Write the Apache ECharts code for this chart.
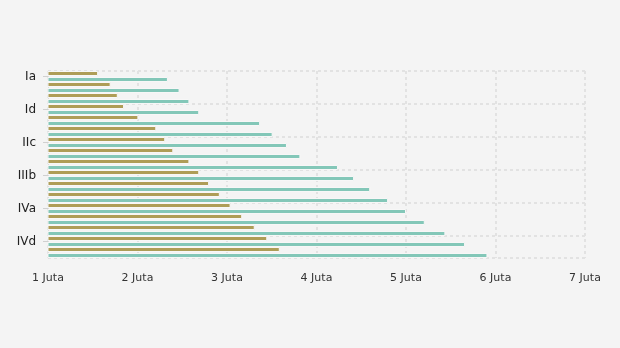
<!DOCTYPE html>
<html>
<head>
<meta charset="utf-8">
<script src="https://cdn.jsdelivr.net/npm/echarts@6/dist/echarts.min.js"></script>
<style>
  html, body { margin: 0; padding: 0; background: #f4f4f4; }
  #chart { width: 620px; height: 348px; }
</style>
</head>
<body>
<div id="chart"></div>
<script>
// Categories, top to bottom
const categories = ['Ia', 'Ib', 'Ic', 'Id', 'IIa', 'IIb', 'IIc', 'IId', 'IIIa', 'IIIb', 'IIIc', 'IIId', 'IVa', 'IVb', 'IVc', 'IVd', 'V'];

// Values per category (rupiah)
const seriesGold = [1560000, 1700000, 1780000, 1850000, 2010000, 2210000, 2310000, 2400000, 2580000, 2690000, 2800000, 2920000, 3040000, 3170000, 3310000, 3450000, 3590000];
const seriesTeal = [2340000, 2470000, 2580000, 2690000, 3370000, 3510000, 3670000, 3820000, 4240000, 4420000, 4600000, 4800000, 5000000, 5210000, 5440000, 5660000, 5910000];

// Value-axis range
const xMin = 1000000;
const xMax = 7000000;
const xStep = 1000000;

const chart = echarts.init(document.getElementById('chart'), null, { renderer: 'canvas' });

const gridLine = { color: '#e2e2e2', width: 2, type: [3, 3] };

chart.setOption({
  backgroundColor: '#f4f4f4',
  animation: false,
  grid: { left: 48, right: 35, top: 71, bottom: 90, containLabel: false },
  xAxis: {
    type: 'value',
    min: xMin,
    max: xMax,
    interval: xStep,
    axisLine: { show: false },
    axisTick: { show: false },
    axisLabel: {
      color: '#333',
      fontFamily: 'DejaVu Sans',
      fontSize: 11,
      margin: 15,
      formatter: v => (v / 1000000) + ' Juta'
    },
    splitLine: { show: true, lineStyle: gridLine }
  },
  yAxis: {
    type: 'category',
    data: categories,
    inverse: true,
    axisLine: { show: true, lineStyle: { color: '#dcdcdc', width: 1 } },
    axisTick: { show: true, alignWithLabel: true, interval: 2, length: 5, lineStyle: { color: '#d0d0d0' } },
    axisLabel: {
      interval: 2,
      color: '#222',
      fontFamily: 'DejaVu Sans',
      fontSize: 12,
      margin: 12,
      padding: [2, 0, 0, 0]
    },
    splitLine: { show: true, interval: 2, lineStyle: gridLine }
  },
  series: [
    {
      type: 'bar',
      data: seriesGold,
      barWidth: 5,
      barGap: '20%',
      itemStyle: { color: '#ae9d57', borderColor: '#f7f7f7', borderWidth: 1 }
    },
    {
      type: 'bar',
      data: seriesTeal,
      barWidth: 5,
      itemStyle: { color: '#83c7b8', borderColor: '#f7f7f7', borderWidth: 1 }
    }
  ]
});
</script>
</body>
</html>
